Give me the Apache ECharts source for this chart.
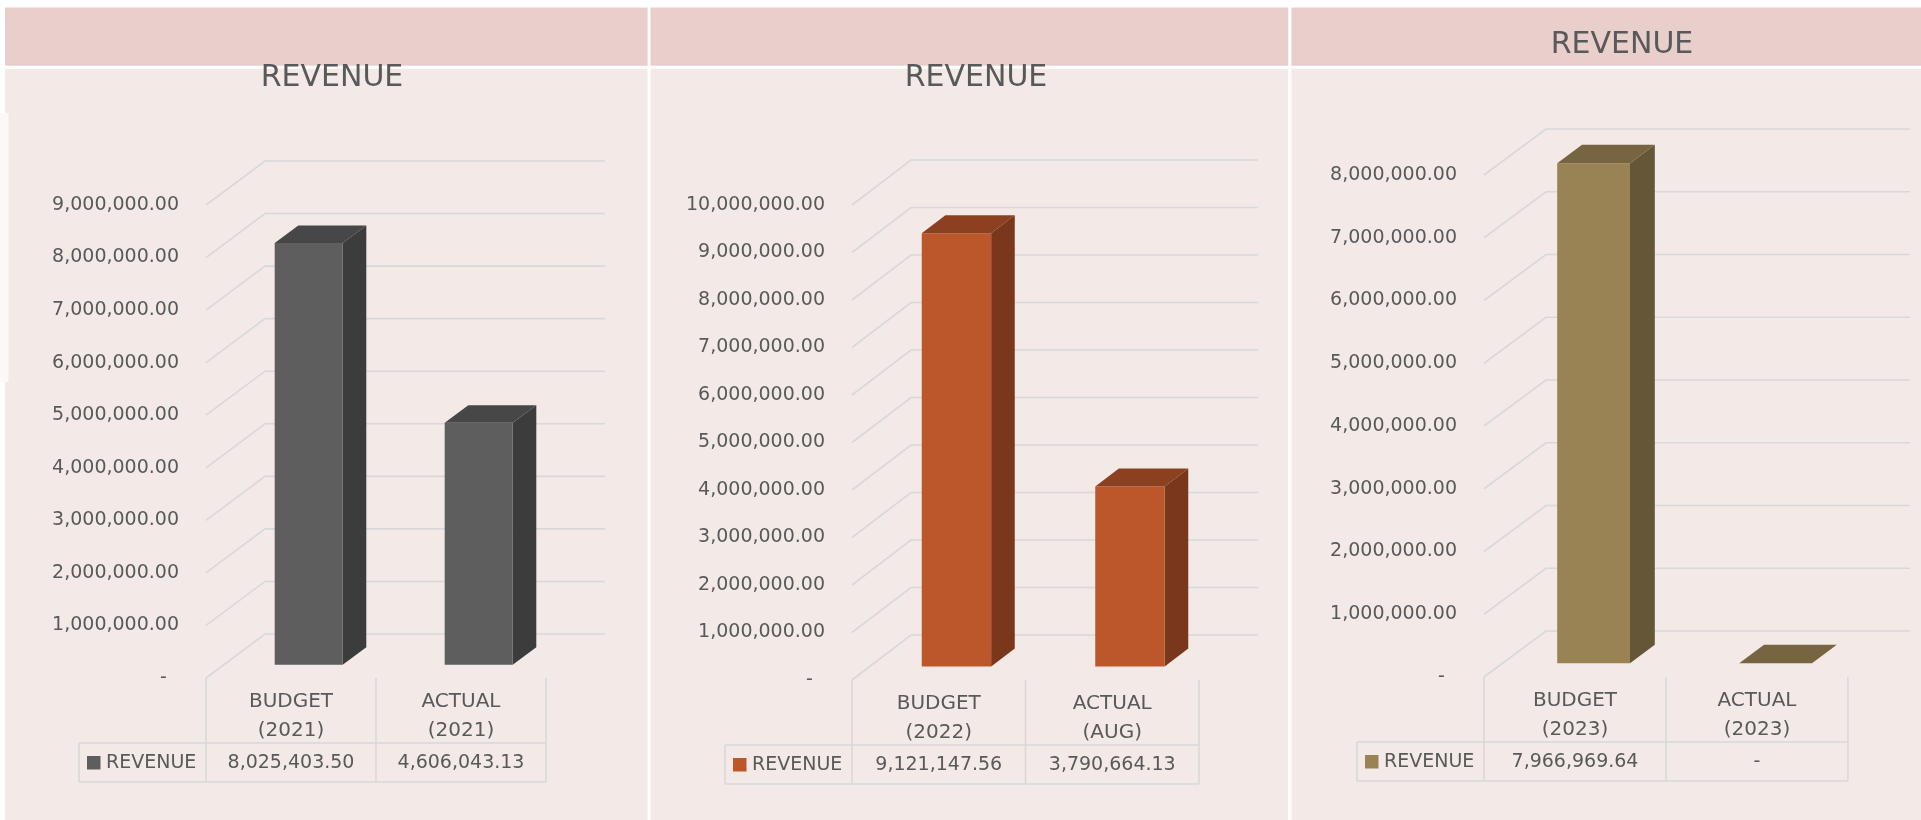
<!DOCTYPE html>
<html>
<head>
<meta charset="utf-8">
<script src="https://cdn.jsdelivr.net/npm/echarts@6/dist/echarts.min.js"></script>
<style>
html,body{margin:0;padding:0;background:#ffffff;}
#main{width:1921px;height:820px;}
</style>
</head>
<body>
<div id="main"></div>
<script>
// ---------------- DATA ----------------
const seriesName = 'REVENUE';
const chartTitles = ['REVENUE', 'REVENUE', 'REVENUE'];

const categories1 = ['BUDGET\n(2021)', 'ACTUAL\n(2021)'];
const revenue1 = [8025403.50, 4606043.13];
const yTicks1 = [0, 1000000, 2000000, 3000000, 4000000, 5000000, 6000000, 7000000, 8000000, 9000000];

const categories2 = ['BUDGET\n(2022)', 'ACTUAL\n(AUG)'];
const revenue2 = [9121147.56, 3790664.13];
const yTicks2 = [0, 1000000, 2000000, 3000000, 4000000, 5000000, 6000000, 7000000, 8000000, 9000000, 10000000];

const categories3 = ['BUDGET\n(2023)', 'ACTUAL\n(2023)'];
const revenue3 = [7966969.64, 0];
const yTicks3 = [0, 1000000, 2000000, 3000000, 4000000, 5000000, 6000000, 7000000, 8000000];

// ---------------- STYLE / LAYOUT ----------------
const FONT = 'DejaVu Sans';
const TXT = '#595959';
const GRIDC = '#d9d8d8';
const HEADER_BG = '#e8cfcb';
const BODY_BG = '#f3eae8';

const panels = [
  { cats: categories1, vals: revenue1, ticks: yTicks1,
    box: [5, 647.6], title: [332, 78.5],
    grid: { left: 206, top: 205, width: 340, height: 473 },
    depth: [59, -44],
    colors: { front: '#5e5e5e', side: '#3c3c3c', top: '#474747' } },
  { cats: categories2, vals: revenue2, ticks: yTicks2,
    box: [650.5, 1288.2], title: [976, 78.5],
    grid: { left: 852, top: 205, width: 347, height: 475 },
    depth: [59, -45],
    colors: { front: '#bc572b', side: '#7a371c', top: '#8b401f' } },
  { cats: categories3, vals: revenue3, ticks: yTicks3,
    box: [1291.4, 1921], title: [1622, 45.5],
    grid: { left: 1484, top: 175, width: 364, height: 502 },
    depth: [62, -46],
    colors: { front: '#998254', side: '#655637', top: '#776441' } }
];

function fmtNum(v) {
  if (v === 0) return '-';
  const parts = v.toFixed(2).split('.');
  return parts[0].replace(/\B(?=(\d{3})+(?!\d))/g, ',') + '.' + parts[1];
}

const chart = echarts.init(document.getElementById('main'), null, { renderer: 'canvas' });

const grids = [], xAxes = [], yAxes = [], series = [], graphics = [];

// backgrounds
graphics.push({ type: 'rect', shape: { x: 0, y: 0, width: 1921, height: 820 }, style: { fill: '#ffffff' }, z: -10 });
panels.forEach(p => {
  graphics.push({ type: 'rect', shape: { x: p.box[0], y: 7.5, width: p.box[1] - p.box[0], height: 58.2 }, style: { fill: HEADER_BG }, z: -9 });
  graphics.push({ type: 'rect', shape: { x: p.box[0], y: 68.7, width: p.box[1] - p.box[0], height: 820 - 68.7 }, style: { fill: BODY_BG }, z: -9 });
});
graphics.push({ type: 'rect', shape: { x: 0, y: 113, width: 8.5, height: 269 }, style: { fill: '#fcf8f7' }, z: -8 });

panels.forEach((p, k) => {
  graphics.push({ type: 'text', x: p.title[0], y: p.title[1], z: 5,
    style: { text: chartTitles[k], align: 'center', verticalAlign: 'middle', fill: TXT, fontSize: 30, fontFamily: FONT } });

  grids.push(Object.assign({ containLabel: false }, p.grid));
  xAxes.push({
    gridIndex: k, type: 'category', data: p.cats,
    axisLine: { show: false }, axisTick: { show: false }, splitLine: { show: false },
    axisLabel: { interval: 0, margin: 9, fontSize: 20, lineHeight: 29, color: TXT, fontFamily: FONT }
  });
  yAxes.push({
    gridIndex: k, type: 'value', min: p.ticks[0], max: p.ticks[p.ticks.length - 1], interval: p.ticks[1] - p.ticks[0],
    axisLine: { show: false }, axisTick: { show: false }, splitLine: { show: false },
    axisLabel: { margin: 27, fontSize: 19, color: TXT, fontFamily: FONT,
      formatter: v => v === 0 ? '-  ' : fmtNum(v) }
  });

  const dx = p.depth[0], dy = p.depth[1];

  // 3D gridlines (floor diagonal + back wall line)
  series.push({
    type: 'custom', xAxisIndex: k, yAxisIndex: k, clip: false, z: 1, silent: true,
    data: p.ticks.map(v => [0, v]),
    renderItem: (params, api) => {
      const cs = params.coordSys;
      const y = api.coord([0, api.value(1)])[1];
      const x0 = cs.x, x1 = cs.x + cs.width;
      return { type: 'polyline', shape: { points: [[x0, y], [x0 + dx, y + dy], [x1 + dx, y + dy]] },
        style: { stroke: GRIDC, lineWidth: 1.6, fill: null } };
    }
  });

  // 3D bars
  const f0 = 0.3, d = 0.4;
  series.push({
    type: 'custom', name: seriesName, xAxisIndex: k, yAxisIndex: k, clip: false, z: 3,
    data: p.vals.map((v, i) => [i, v]),
    renderItem: (params, api) => {
      const base = api.coord([api.value(0), 0]);
      const top = api.coord([api.value(0), api.value(1)]);
      const bw = api.size([1, 0])[0] * 0.4;
      const xl = base[0] - bw / 2 + f0 * dx, xr = base[0] + bw / 2 + f0 * dx;
      const yt = top[1] + f0 * dy, yb = base[1] + f0 * dy;
      const ddx = d * dx, ddy = d * dy;
      return { type: 'group', children: [
        { type: 'polygon', shape: { points: [[xr, yt], [xr + ddx, yt + ddy], [xr + ddx, yb + ddy], [xr, yb]] }, style: { fill: p.colors.side } },
        { type: 'polygon', shape: { points: [[xl, yt], [xr, yt], [xr, yb], [xl, yb]] }, style: { fill: p.colors.front } },
        { type: 'polygon', shape: { points: [[xl, yt], [xl + ddx, yt + ddy], [xr + ddx, yt + ddy], [xr, yt]] }, style: { fill: p.colors.top } }
      ] };
    }
  });

  // data table
  series.push({
    type: 'custom', xAxisIndex: k, yAxisIndex: k, clip: false, z: 2, silent: true,
    data: p.vals.map((v, i) => [i, v]),
    renderItem: (params, api) => {
      const cs = params.coordSys;
      const n = p.cats.length;
      const i = api.value(0), v = api.value(1);
      const cw = cs.width / n;
      const x0 = cs.x + i * cw, x1 = x0 + cw;
      const y0 = cs.y + cs.height;
      const rt = y0 + 65, rb = y0 + 104;
      const ls = { stroke: GRIDC, lineWidth: 1.6 };
      const ch = [
        { type: 'line', shape: { x1: x0, y1: y0, x2: x0, y2: rb }, style: ls },
        { type: 'line', shape: { x1: x0, y1: rt, x2: x1, y2: rt }, style: ls },
        { type: 'line', shape: { x1: x0, y1: rb, x2: x1, y2: rb }, style: ls },
        { type: 'text', style: { text: fmtNum(v), x: (x0 + x1) / 2, y: (rt + rb) / 2 + 1, align: 'center', verticalAlign: 'middle', fill: TXT, fontSize: 19, fontFamily: FONT } }
      ];
      if (i === n - 1) ch.push({ type: 'line', shape: { x1: x1, y1: y0, x2: x1, y2: rb }, style: ls });
      if (i === 0) {
        const lx = cs.x - 127;
        ch.push({ type: 'line', shape: { x1: lx, y1: rt, x2: x0, y2: rt }, style: ls });
        ch.push({ type: 'line', shape: { x1: lx, y1: rb, x2: x0, y2: rb }, style: ls });
        ch.push({ type: 'line', shape: { x1: lx, y1: rt, x2: lx, y2: rb }, style: ls });
        ch.push({ type: 'rect', shape: { x: cs.x - 119, y: (rt + rb) / 2 - 6.5, width: 13.5, height: 13.5 }, style: { fill: p.colors.front } });
        ch.push({ type: 'text', style: { text: seriesName, x: cs.x - 100, y: (rt + rb) / 2 + 1, align: 'left', verticalAlign: 'middle', fill: TXT, fontSize: 19, fontFamily: FONT } });
      }
      return { type: 'group', children: ch };
    }
  });
});

chart.setOption({
  animation: false,
  backgroundColor: 'transparent',
  graphic: graphics,
  grid: grids,
  xAxis: xAxes,
  yAxis: yAxes,
  series: series
});
</script>
</body>
</html>
